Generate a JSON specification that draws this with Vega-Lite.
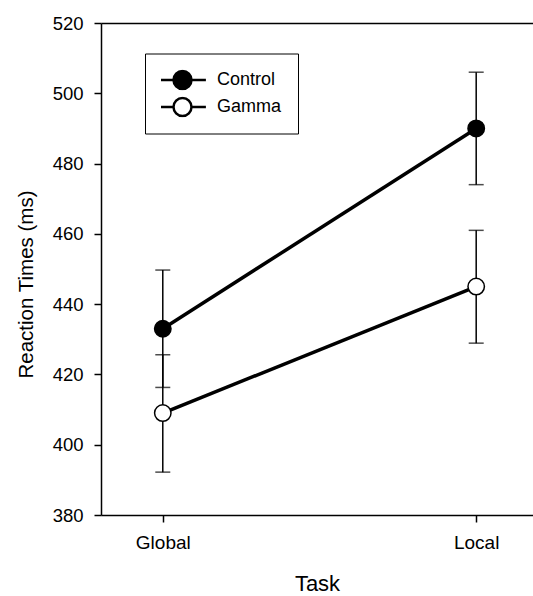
{
  "$schema": "https://vega.github.io/schema/vega-lite/v6.json",
  "autosize": "none",
  "padding": {"left": 101, "top": 23, "right": 0, "bottom": 81},
  "width": 432,
  "height": 492,
  "background": "white",
  "data": {"values": [
    {"task": "Global", "group": "Control", "mean": 433, "lo": 416.3, "hi": 449.7},
    {"task": "Local", "group": "Control", "mean": 490, "lo": 474, "hi": 506},
    {"task": "Global", "group": "Gamma", "mean": 409, "lo": 392.2, "hi": 425.6},
    {"task": "Local", "group": "Gamma", "mean": 445, "lo": 428.9, "hi": 461}
  ]},
  "encoding": {
    "x": {"field": "task", "type": "nominal", "sort": ["Global", "Local"],
      "scale": {"type": "point", "padding": 0.1892, "align": 0.521}}
  },
  "layer": [
    {
      "mark": {"type": "rule", "color": "black", "strokeWidth": 1.5},
      "encoding": {
        "x": {"field": "task", "type": "nominal", "sort": ["Global", "Local"],
          "scale": {"type": "point", "padding": 0.1892, "align": 0.521},
          "axis": {"orient": "top", "labels": false, "ticks": false, "title": null, "domain": true}},
        "y": {"field": "lo", "type": "quantitative",
          "scale": {"domain": [380, 520], "zero": false, "nice": false},
          "axis": {"values": [380, 400, 420, 440, 460, 480, 500, 520], "title": "Reaction Times (ms)",
            "titleFontSize": 20.5, "titleX": -69, "titleY": 261, "titleAngle": -90,
            "titleAlign": "center", "titleBaseline": "alphabetic", "labelPadding": 11, "labelFontSize": 18.5}},
        "y2": {"field": "hi"}
      }
    },
    {
      "mark": {"type": "tick", "color": "black", "thickness": 1.5, "size": 15},
      "encoding": {
        "x": {"field": "task", "type": "nominal", "sort": ["Global", "Local"], "axis": null},
        "y": {"field": "lo", "type": "quantitative"}
      }
    },
    {
      "mark": {"type": "tick", "color": "black", "thickness": 1.5, "size": 15},
      "encoding": {
        "x": {"field": "task", "type": "nominal", "sort": ["Global", "Local"], "axis": null},
        "y": {"field": "hi", "type": "quantitative"}
      }
    },
    {
      "mark": {"type": "line", "color": "black", "strokeWidth": 3.5},
      "encoding": {
        "x": {"field": "task", "type": "nominal", "sort": ["Global", "Local"], "axis": null},
        "y": {"field": "mean", "type": "quantitative"},
        "detail": {"field": "group"}
      }
    },
    {
      "mark": {"type": "point", "filled": true, "stroke": "black", "strokeWidth": 1.5, "size": 270, "opacity": 1},
      "encoding": {
        "x": {"field": "task", "type": "nominal", "sort": ["Global", "Local"],
          "axis": {"title": "Task", "titleFontSize": 22, "titlePadding": 21, "labelPadding": 11, "labelAngle": 0, "labelFontSize": 19}},
        "y": {"field": "mean", "type": "quantitative"},
        "fill": {"field": "group", "type": "nominal",
          "scale": {"domain": ["Control", "Gamma"], "range": ["black", "white"]},
          "legend": {
            "orient": "none", "legendX": 44, "legendY": 30.5, "title": null,
            "padding": 16, "rowPadding": 6, "clipHeight": 21,
            "strokeColor": "black", "fillColor": "white",
            "symbolType": "M-2.6,0H-1M1,0H2.6M-1,0A1,1 0 1,1 1,0A1,1 0 1,1 -1,0Z",
            "symbolSize": 324, "symbolStrokeColor": "black", "symbolStrokeWidth": 2.5,
            "symbolOffset": 11, "labelOffset": 24,
            "labelFont": "Liberation Sans", "labelFontSize": 18, "labelColor": "black",
            "encode": {"legend": {"update": {"strokeWidth": {"value": 1.5}}}}
          }}
      }
    }
  ],
  "resolve": {"axis": {"x": "independent"}},
  "config": {
    "view": {"stroke": null},
    "font": "Liberation Sans",
    "axis": {
      "grid": false, "domainColor": "black", "domainWidth": 1.5,
      "tickColor": "black", "tickWidth": 1.5, "tickSize": 7,
      "labelFont": "Liberation Sans", "labelFontSize": 18, "labelColor": "black",
      "titleFont": "Liberation Sans", "titleFontWeight": "normal", "titleColor": "black"
    }
  }
}
